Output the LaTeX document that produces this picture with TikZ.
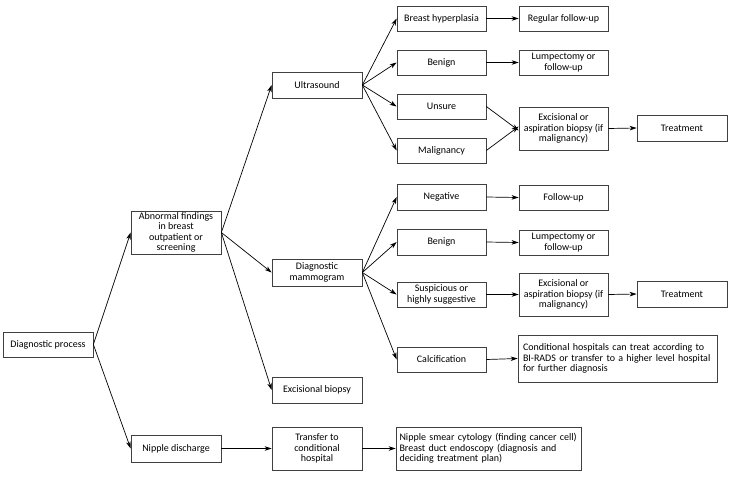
\documentclass[tikz,border=0pt]{standalone}
\usepackage{fontspec}
\setmainfont{Carlito}
\usetikzlibrary{arrows.meta}
\begin{document}
\begin{tikzpicture}[x=1pt,y=-1pt,
  box/.style={draw=black!75, line width=0.7pt, inner sep=1pt, align=center,
    font=\fontsize{10}{10.5}\selectfont},
  conn/.style={-{Stealth[length=7pt,width=4.5pt,inset=2pt]}, line width=0.7pt, black},
]
\useasboundingbox (0,0) rectangle (735,482);
\newcommand{\bx}[6]{\node[box, minimum width={#4-#2}, minimum height={#5-#3}, #6] at ({(#2+#4)/2},{(#3+#5)/2})}
% level 0
\bx{dp}{3}{332}{93}{357}{} (dp) {Diagnostic process};
% level 1
\bx{abn}{131}{211}{221}{254}{} (abn) {Abnormal findings\\in breast\\outpatient or\\screening};
\bx{nip}{131}{435}{221}{462}{} (nip) {Nipple discharge};
% level 2
\bx{us}{272}{72}{362}{98}{} (us) {Ultrasound};
\bx{dm}{272}{259}{362}{286}{} (dm) {Diagnostic\\mammogram};
\bx{eb}{272}{377}{362}{403}{} (eb) {Excisional biopsy};
\bx{tra}{272}{427}{362}{470}{} (tra) {Transfer to\\conditional\\hospital};
% level 3
\bx{bh}{397}{6}{486}{31}{} (bh) {Breast hyperplasia};
\bx{ben}{397}{50}{486}{75}{} (ben) {Benign};
\bx{uns}{397}{94}{486}{119}{} (uns) {Unsure};
\bx{mal}{397}{138}{486}{163}{} (mal) {Malignancy};
\bx{neg}{397}{184}{486}{210}{} (neg) {Negative};
\bx{bentwo}{397}{229}{486}{255}{} (bentwo) {Benign};
\bx{sus}{397}{282}{486}{307}{} (sus) {Suspicious or\\highly suggestive};
\bx{cal}{397}{347}{486}{372}{} (cal) {Calcification};
\bx{sm}{396}{427}{581}{470}{align=left, inner xsep=3.5pt, text width=178pt} (sm) {Nipple smear cytology (finding cancer cell)\\Breast duct endoscopy (diagnosis and\\deciding treatment plan)};
% level 4
\bx{rf}{519}{6}{608}{31}{} (rf) {Regular follow-up};
\bx{lf}{519}{50}{608}{75}{} (lf) {Lumpectomy or\\follow-up};
\bx{exc}{519}{107}{608}{150}{} (exc) {Excisional or\\aspiration biopsy (if\\malignancy)};
\bx{fu}{519}{185}{608}{210}{} (fu) {Follow-up};
\bx{lftwo}{519}{230}{608}{255}{} (lftwo) {Lumpectomy or\\follow-up};
\bx{exctwo}{519}{273}{608}{316}{} (exctwo) {Excisional or\\aspiration biopsy (if\\malignancy)};
\bx{cond}{518}{335}{717}{382}{align=left, inner xsep=5pt, text width=189pt} (cond) {Conditional hospitals can treat according to\\BI-RADS or transfer to a higher level hospital\\for further diagnosis};
% level 5
\bx{tr}{637}{115}{727}{141}{} (tr) {Treatment};
\bx{trtwo}{637}{281}{727}{307}{} (trtwo) {Treatment};
% connectors
\draw[conn] (dp.east) -- (abn.west);
\draw[conn] (dp.east) -- (nip.west);
\draw[conn] (abn.east) -- (us.west);
\draw[conn] (abn.east) -- (dm.west);
\draw[conn] (abn.east) -- (eb.west);
\draw[conn] (us.east) -- (bh.west);
\draw[conn] (us.east) -- (ben.west);
\draw[conn] (us.east) -- (uns.west);
\draw[conn] (us.east) -- (mal.west);
\draw[conn] (bh.east) -- (rf.west);
\draw[conn] (ben.east) -- (lf.west);
\draw[conn] (uns.east) -- ([yshift=-2pt]exc.west);
\draw[conn] (mal.east) -- ([yshift=2pt]exc.west);
\draw[conn] (exc.east) -- (tr.west);
\draw[conn] (dm.east) -- (neg.west);
\draw[conn] (dm.east) -- (bentwo.west);
\draw[conn] (dm.east) -- (sus.west);
\draw[conn] (dm.east) -- (cal.west);
\draw[conn] (neg.east) -- (fu.west);
\draw[conn] (bentwo.east) -- (lftwo.west);
\draw[conn] (sus.east) -- (exctwo.west);
\draw[conn] (exctwo.east) -- (trtwo.west);
\draw[conn] (cal.east) -- (cond.west);
\draw[conn] (nip.east) -- (tra.west);
\draw[conn] (tra.east) -- (sm.west);
\end{tikzpicture}
\end{document}
